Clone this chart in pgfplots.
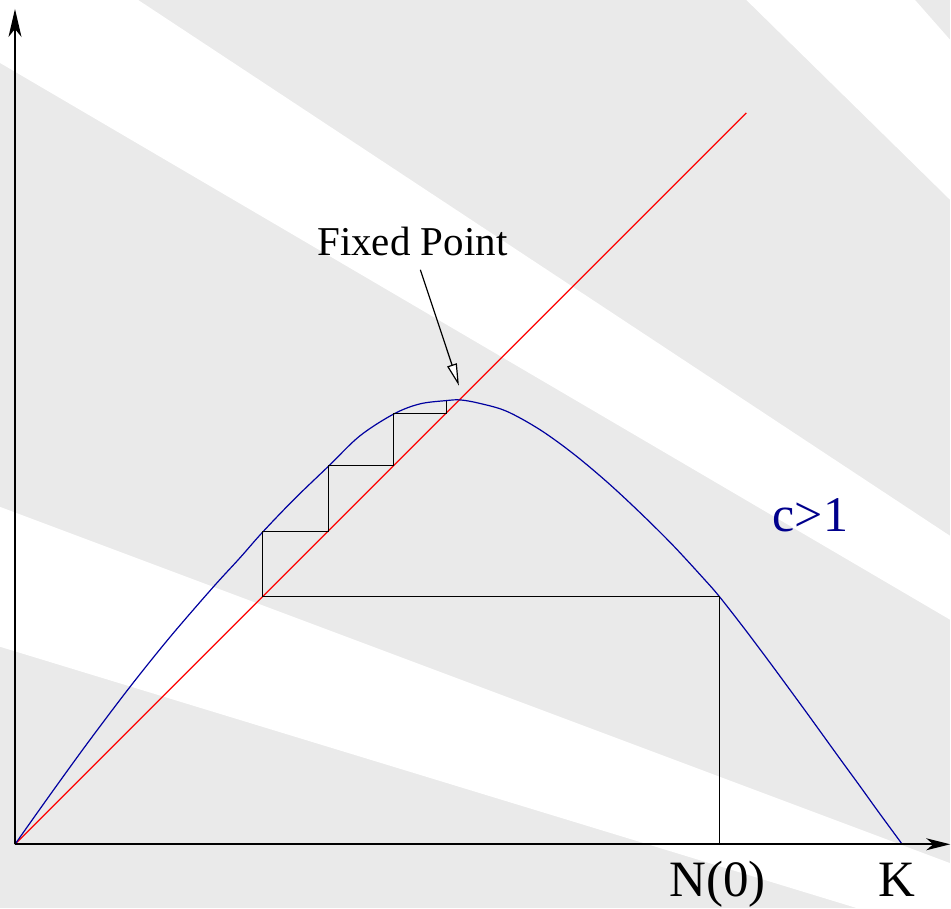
\documentclass[border=0pt]{standalone}
\usepackage{fontspec}
\setmainfont{Liberation Serif}
\usepackage{pgfplots}
\pgfplotsset{compat=1.18}
\usetikzlibrary{arrows.meta}
\definecolor{bggray}{RGB}{234,234,234}
\definecolor{curveblue}{RGB}{0,0,160}
\definecolor{labelblue}{RGB}{0,0,140}
\begin{document}
\begin{tikzpicture}
\begin{axis}[
  x=0.5bp, y=0.5bp,
  xmin=-15, xmax=936, ymin=-64, ymax=845,
  hide axis, clip=false,
]
% background with white diagonal stripes
\addplot[fill=bggray, draw=none] coordinates {(-15,-64) (936,-64) (936,845) (-15,845)} -- cycle;
\addplot[fill=white, draw=none] coordinates {(-15,845) (123.3,845) (936,308.6) (936,224.7) (-15,782)} -- cycle;
\addplot[fill=white, draw=none] coordinates {(732,845) (900.8,845) (936,805) (936,644.9)} -- cycle;
\addplot[fill=white, draw=none] coordinates {(-15,337.7) (936,-18.9) (936,-64) (843,-64) (-15,197.7)} -- cycle;
% diagonal N(t+1)=N(t)
\addplot[red, line width=0.6bp] coordinates {(0,0) (732,732)};
% map curve
\addplot[curveblue, line width=0.6bp, smooth, tension=0.55] coordinates {
(0,0) (20,28.3) (45,63.3) (75,104.5) (115,157.4) (155,207.2) (198,257.0)
(225,286.5) (248,312.6) (280,345.9) (314,378.6) (345,408.6) (379,430.6)
(405,440.7) (432,444.1) (446,444.7) (465,441.3) (492,433.4) (525,415.2)
(558,391.5) (592,363.1) (625,332.5) (658,299.8) (690,265.1) (705,247.9)
(730,215.9) (755,182.6) (780,148.6) (798,123.9) (825,86.5) (845,59.1)
(865,31.3) (888,0)};
% cobweb
\addplot[black, line width=0.7bp] coordinates {
(705,0) (705,248) (248,248) (248,313) (314,313) (314,379) (379,379) (379,431) (432,431) (432,444)};
% axes
\addplot[black, line width=0.8bp, -{Stealth[length=12bp, width=6bp, inset=3.5bp]}] coordinates {(0,0) (936,0)};
\addplot[black, line width=0.8bp, -{Stealth[length=14bp, width=6.5bp, inset=4bp]}] coordinates {(0,0) (0,836)};
% fixed point arrow
\addplot[black, line width=0.6bp, -{Triangle[length=11bp, width=5bp, fill=white]}] coordinates {(405.7,575) (444.3,459)};
% labels
\node[anchor=base, inner sep=0pt, font=\fontsize{20.5bp}{24bp}\selectfont] at (axis cs:397.7,589) {Fixed Point};
\node[anchor=base, inner sep=0pt, font=\fontsize{25.5bp}{30bp}\selectfont] at (axis cs:703,-52.3) {N(0)};
\node[anchor=base, inner sep=0pt, font=\fontsize{25.5bp}{30bp}\selectfont] at (axis cs:883,-52.3) {K};
\node[anchor=base, inner sep=0pt, text=labelblue, font=\fontsize{25bp}{30bp}\selectfont] at (axis cs:796,313.3) {c>1};
\end{axis}
\end{tikzpicture}
\end{document}
